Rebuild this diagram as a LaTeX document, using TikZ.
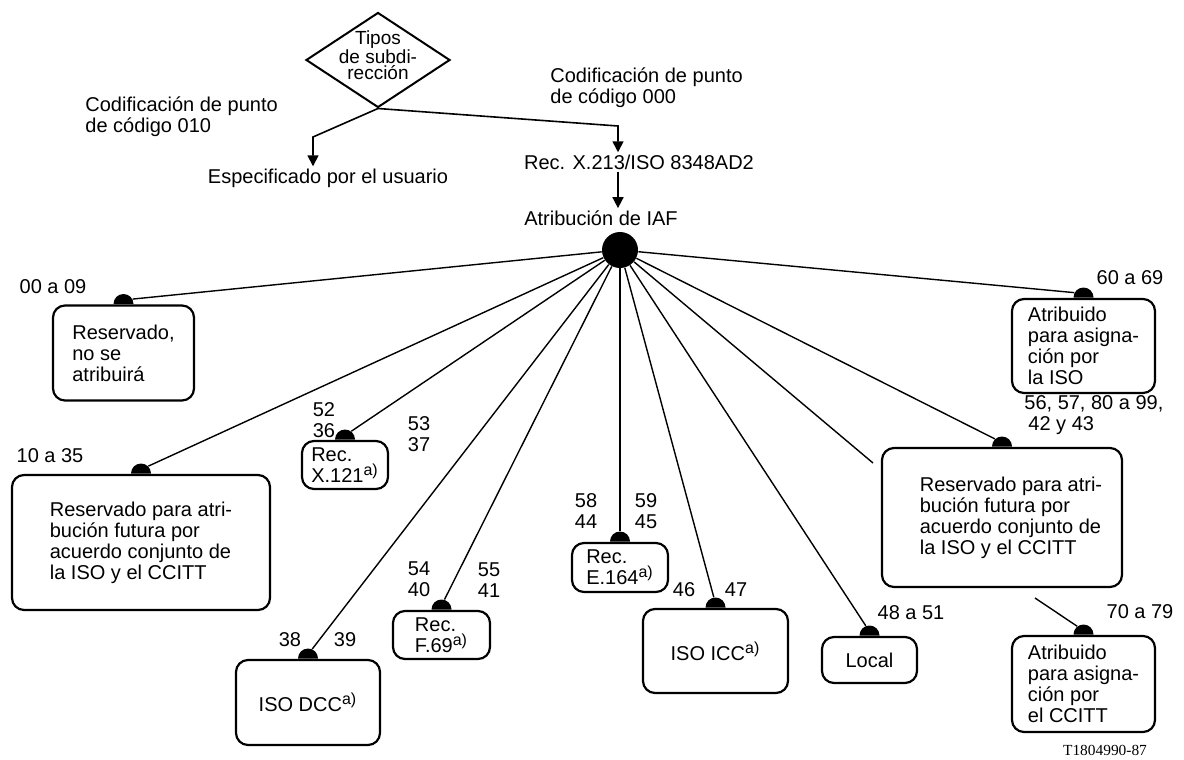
\documentclass[tikz,border=0pt]{standalone}
\usepackage{fontspec}
\setmainfont{Liberation Sans}
\newfontfamily\serialfont{Liberation Serif}
\usetikzlibrary{shapes.geometric,arrows.meta}
\newcommand{\anote}{\textsuperscript{\fontsize{8}{8}\selectfont a)}}
\begin{document}
\begin{tikzpicture}[x=0.5pt,y=-0.5pt]
\tikzstyle{every node}+=[inner sep=1pt]
\tikzstyle{txt}=[font=\fontsize{10}{10.5}\selectfont, align=left]
\tikzstyle{box}=[draw, line width=1.1pt, rounded corners=6pt, fill=white, txt]
\tikzstyle{recbox}=[box, font=\fontsize{10}{8.5}\selectfont]
\tikzstyle{dot}=[semicircle, fill=black, inner sep=0pt, minimum width=10pt, minimum height=5pt, anchor=chord center]
\tikzstyle{arr}=[line width=0.8pt, -{Triangle[length=5.5pt,width=5.5pt]}]
\tikzstyle{ray}=[line width=0.7pt]
\useasboundingbox (0,0) rectangle (1184,760);
\node[diamond, draw, line width=1pt, shape aspect=1.5, inner sep=-6pt, minimum width=72pt, minimum height=47.5pt, font=\fontsize{9.5}{8}\selectfont, align=center, text depth=5pt] (tipos) at (378,60) {Tipos\\de subdi-\\rección};
\node[txt, anchor=west] (cod010) at (83,117) {Codificación de punto\\de código 010};
\node[txt, anchor=west] (cod000) at (548,88) {Codificación de punto\\de código 000};
\node[txt] (usuario) at (328,178) {Especificado por el usuario};
\node[txt] (x213) at (639,162) {Rec. X.213/ISO 8348AD2};
\node[txt] (iaf) at (601,218) {Atribución de IAF};
\node[circle, fill=black, minimum size=18pt, inner sep=0pt] (hub) at (620,250) {};
\coordinate (lbend) at (313,137);
\coordinate (rbend) at (618,126);
\draw[arr] (tipos.south) -- (lbend) -- (lbend |- usuario.north);
\draw[arr] (tipos.south) -- (rbend) -- (rbend |- x213.north);
\draw[arr] (rbend |- x213.south) -- (rbend |- iaf.north);
\node[box, minimum width=70.5pt, minimum height=47.5pt] (reserv) at (123.5,353) {Reservado,\\no se\\atribuirá};
\node[box, minimum width=129pt, minimum height=67.5pt] (futuro) at (141,542.5) {Reservado para atri-\\bución futura por\\acuerdo conjunto de\\la ISO y el CCITT};
\node[recbox, minimum width=43pt, minimum height=24pt] (x121) at (345,465) {Rec.\\X.121\anote};
\node[box, minimum width=72pt, minimum height=42.5pt] (dcc) at (308,702.5) {ISO DCC\anote};
\node[recbox, minimum width=48.5pt, minimum height=24pt] (f69) at (441.5,635) {Rec.\\F.69\anote};
\node[recbox, minimum width=48pt, minimum height=24.5pt] (e164) at (620,567.5) {Rec.\\E.164\anote};
\node[box, minimum width=72.5pt, minimum height=42pt] (icc) at (715.5,651) {ISO ICC\anote};
\node[box, minimum width=47.5pt, minimum height=23pt] (local) at (869.5,660) {Local};
\node[box, minimum width=71.5pt, minimum height=47pt] (isoasig) at (1083.5,346) {Atribuido\\para asigna-\\ción por\\la ISO};
\node[box, minimum width=120pt, minimum height=69.5pt] (conjunto) at (1002,517.5) {\hspace*{9pt}Reservado para atri-\\\hspace*{9pt}bución futura por\\\hspace*{9pt}acuerdo conjunto de\\\hspace*{9pt}la ISO y el CCITT};
\node[box, minimum width=71.5pt, minimum height=48pt] (ccittasig) at (1083.5,684) {Atribuido\\para asigna-\\ción por\\el CCITT};
\node[dot] (dreserv) at (reserv.north) {};
\node[dot] (dfuturo) at (futuro.north) {};
\node[dot] (dx121) at (x121.north) {};
\node[dot] (ddcc) at (dcc.north) {};
\node[dot] (df69) at (f69.north) {};
\node[dot] (de164) at (e164.north) {};
\node[dot] (dicc) at (icc.north) {};
\node[dot] (dlocal) at (local.north) {};
\node[dot] (disoasig) at (isoasig.north) {};
\node[dot] (dconjunto) at (conjunto.north) {};
\node[dot] (dccittasig) at (ccittasig.north) {};
\coordinate (rayend) at (873,463);
\coordinate (subend) at (1035,598);
\draw[ray] (hub) -- (dreserv);
\draw[ray] (hub) -- (dfuturo);
\draw[ray] (hub) -- (dx121);
\draw[ray] (hub) -- (ddcc);
\draw[ray] (hub) -- (df69);
\draw[ray] (hub) -- (de164);
\draw[ray] (hub) -- (dicc);
\draw[ray] (hub) -- (dlocal);
\draw[ray] (hub) -- (rayend);
\draw[ray] (hub) -- (dconjunto);
\draw[ray] (hub) -- (disoasig);
\draw[ray] (subend) -- (dccittasig);
\node[txt] (l0009) at (53,287) {00 a 09};
\node[txt] (l1035) at (50,456) {10 a 35};
\node[txt] (l5236) at (324,420) {52\\36};
\node[txt] (l5337) at (419,434) {53\\37};
\node[txt] (l5440) at (419,579) {54\\40};
\node[txt] (l5541) at (489,580) {55\\41};
\node[txt] (l38) at (290,640) {38};
\node[txt] (l39) at (345,640) {39};
\node[txt] (l5844) at (586,511) {58\\44};
\node[txt] (l5945) at (646,511) {59\\45};
\node[txt] (l46) at (684,590) {46};
\node[txt] (l47) at (736,590) {47};
\node[txt] (l4851) at (911,613) {48 a 51};
\node[txt] (l6069) at (1130,278) {60 a 69};
\node[txt, anchor=west] (l5699) at (1022,415) {56, 57, 80 a 99,\\\hspace{2pt}42 y 43};
\node[txt] (l7079) at (1140,612) {70 a 79};
\node[font=\serialfont\fontsize{7.7}{8}\selectfont] (serial) at (1105,750) {T1804990-87};
\end{tikzpicture}
\end{document}
